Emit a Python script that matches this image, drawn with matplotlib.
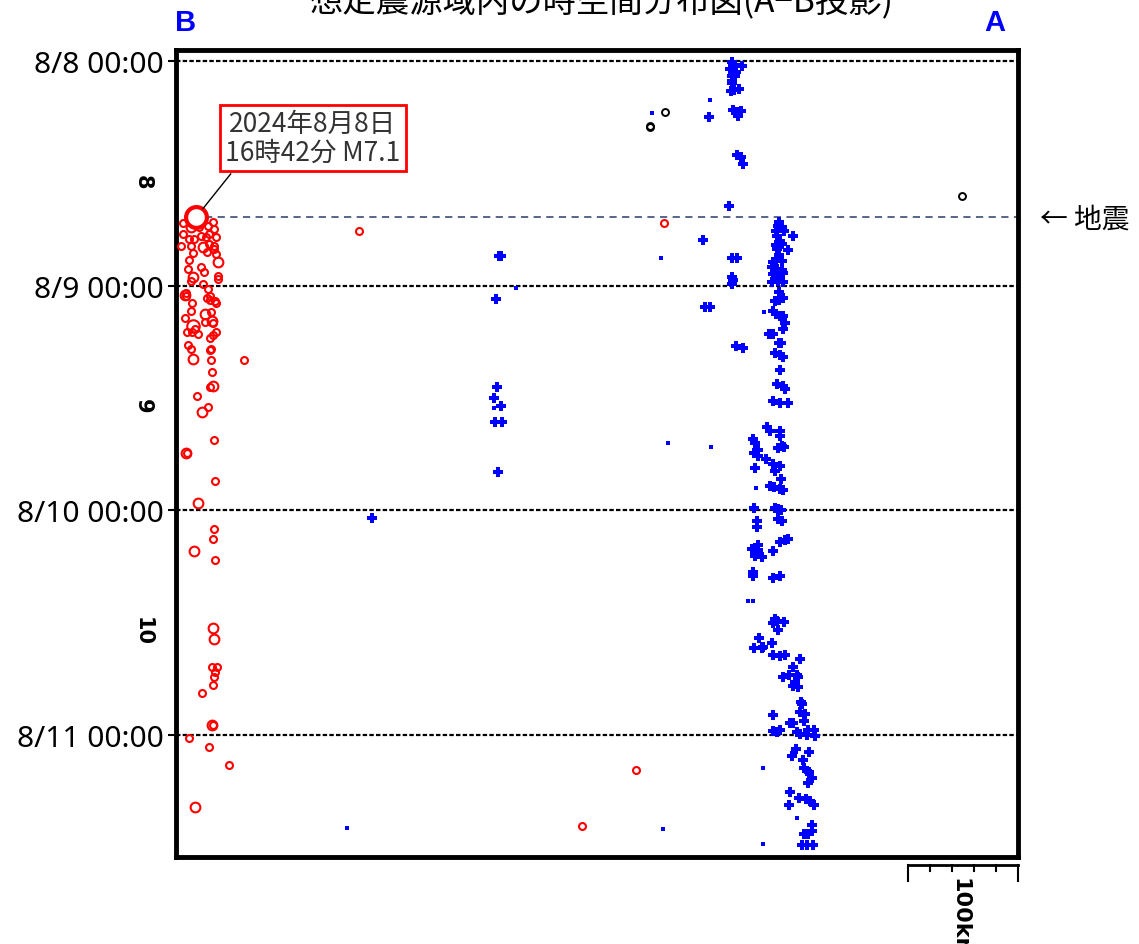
import numpy as np
import matplotlib.pyplot as plt

# data: x = distance from B along A-B (km), y = hours since 8/8 00:00
main_km, main_h = 18.2, 16.7
main_label = '2024年8月8日\n16時42分 M7.1'

red = [  # km, hours, magnitude (approx)
    (6.4, 17.3, 4.5), (13.6, 17.7, 5.0), (20.9, 17.7, 4.5), (29.1, 17.6, 4.5), (33.6, 17.2, 4.5), (34.5, 17.9, 4.5),
    (6.4, 18.5, 4.5), (11.8, 19.0, 4.5), (16.4, 19.0, 4.5), (22.7, 18.7, 4.5), (27.3, 18.8, 4.5), (30.0, 18.5, 4.5), (36.4, 18.8, 4.5),
    (4.5, 19.8, 4.5), (13.6, 19.8, 4.5), (24.5, 19.9, 5.0), (30.0, 19.55, 4.5), (34.5, 19.8, 4.5), (34.5, 20.1, 4.5),
    (15.5, 20.5, 4.5), (28.2, 20.4, 4.5), (36.4, 20.6, 4.5), (11.8, 21.3, 4.5), (38.2, 21.5, 5.0),
    (22.7, 22.0, 4.5), (10.9, 22.2, 4.5), (25.5, 22.5, 4.5), (15.5, 23.1, 5.0), (38.2, 23.0, 4.5),
    (13.6, 23.5, 4.5), (24.5, 23.8, 4.5), (29.1, 24.4, 4.5), (9.1, 24.8, 4.5), (38.2, 23.3, 4.5),
    (8.2, 25.0, 5.0), (9.1, 25.1, 4.5), (14.5, 25.9, 4.5), (28.2, 25.3, 4.5), (30.9, 25.1, 4.5), (30.9, 25.5, 4.5),
    (35.5, 25.6, 4.5), (36.4, 25.9, 4.5), (13.6, 26.7, 4.5), (8.2, 27.5, 4.5), (26.4, 27.0, 5.0), (31.8, 26.8, 4.5),
    (15.5, 28.3, 5.5), (17.3, 28.6, 4.5), (10.0, 29.0, 4.5), (14.5, 29.0, 4.5), (20.0, 29.2, 4.5), (26.4, 27.9, 4.5),
    (32.7, 27.8, 5.0), (33.6, 28.0, 4.5), (36.4, 29.0, 4.5), (33.6, 29.3, 4.5), (30.9, 29.6, 4.5),
    (10.9, 30.3, 4.5), (13.6, 30.8, 4.5), (30.9, 30.9, 4.5), (31.8, 30.8, 4.5),
    (15.5, 31.8, 5.0), (31.8, 31.9, 4.5), (61.8, 31.9, 4.5), (32.7, 33.2, 4.5),
    (30.9, 34.8, 4.5), (33.6, 34.7, 5.0), (19.1, 35.8, 4.5), (29.1, 37.0, 4.5), (23.6, 37.5, 5.0),
    (34.5, 40.5, 4.5), (9.1, 41.9, 5.0), (10.0, 41.9, 4.5), (35.5, 44.9, 4.5), (20.0, 47.2, 5.0),
    (34.5, 50.0, 4.5), (33.6, 51.1, 4.5), (16.4, 52.4, 5.0), (35.5, 53.3, 4.5),
    (33.6, 60.6, 5.0), (34.5, 61.8, 5.0), (32.7, 64.7, 4.5), (37.3, 64.7, 4.5), (35.5, 65.3, 4.5),
    (34.5, 65.8, 4.5), (33.6, 66.7, 4.5), (23.6, 67.5, 4.5), (32.7, 70.9, 5.0), (33.6, 70.9, 4.5),
    (11.8, 72.3, 4.5), (30.0, 73.3, 4.5), (48.2, 75.2, 4.5), (17.3, 79.7, 5.0),
    (166.4, 18.2, 4.5), (443.6, 17.3, 4.5), (418.2, 75.7, 4.5), (369.1, 81.7, 4.5),
]
red_km = [r[0] for r in red]
red_h = [r[1] for r in red]
red_mag = [r[2] for r in red]

black_km = [444.5, 430.9, 430.9, 714.5]
black_h = [5.4, 6.9, 7.1, 14.4]

blue = [
    (505.5, 0.1), (506.4, 0.5), (508.2, 0.4), (514.5, 0.5), (503.6, 0.85), (506.4, 1.2), (509.1, 1.2),
    (505.5, 1.6), (508.2, 1.6), (505.5, 2.1), (505.5, 2.35), (504.5, 3.2), (507.3, 3.1), (511.8, 3.0),
    (484.5, 6.0), (506.4, 5.2), (510.0, 5.45), (513.6, 5.3), (510.9, 5.9),
    (510.0, 10.0), (513.6, 10.3), (515.5, 11.0), (502.7, 15.5), (479.1, 19.1),
    (505.5, 21.0), (510.0, 21.0), (505.5, 23.1), (506.4, 23.4), (505.5, 23.8),
    (480.9, 26.3), (485.5, 26.3), (509.1, 30.4), (515.5, 30.7),
    (293.6, 20.8), (295.5, 20.8), (290.9, 25.4), (291.8, 34.8), (289.1, 36.0), (295.5, 36.9),
    (290.0, 38.6), (296.4, 38.6), (292.7, 43.9), (178.2, 48.8),
    (548.2, 17.2), (547.3, 17.6), (550.9, 17.7), (545.5, 18.2), (552.7, 18.2), (560.9, 18.7), (546.4, 18.7),
    (549.1, 19.2), (545.5, 19.7), (550.9, 19.55), (556.4, 20.2), (546.4, 20.1), (548.2, 20.7),
    (545.5, 21.4), (550.9, 21.4), (542.7, 21.5), (541.8, 22.0), (546.4, 22.2), (550.9, 22.3),
    (542.7, 22.8), (551.8, 22.6), (549.1, 23.1), (541.8, 23.6), (547.3, 23.5), (551.8, 23.6),
    (548.2, 24.7), (544.5, 25.6), (548.2, 25.5), (551.8, 25.3), (542.7, 26.7), (545.5, 27.0),
    (549.1, 27.2), (551.8, 27.2), (553.6, 28.0), (551.8, 28.6), (539.1, 29.2), (542.7, 29.2),
    (548.2, 30.1), (550.0, 30.1), (544.5, 31.2), (549.1, 31.4), (551.8, 31.6), (549.1, 33.0),
    (546.4, 34.5), (551.8, 34.7), (553.6, 35.0), (542.7, 36.3), (549.1, 36.5), (556.4, 36.5),
    (537.3, 39.1), (540.0, 39.5), (549.1, 39.5), (549.1, 40.1), (524.5, 40.4), (526.4, 40.8),
    (529.1, 41.6), (525.5, 41.9), (529.1, 42.2), (536.4, 42.5), (542.7, 43.1), (549.1, 43.3),
    (544.5, 43.8), (550.9, 41.1), (552.7, 41.2), (547.3, 41.3), (526.4, 43.5), (550.0, 44.7),
    (540.0, 45.4), (543.6, 45.5), (549.1, 45.7), (551.8, 45.8), (525.5, 47.8), (544.5, 47.8),
    (547.3, 47.9), (550.0, 48.0), (528.2, 49.1), (528.2, 49.8), (547.3, 48.9), (550.9, 49.1),
    (549.1, 51.4), (553.6, 51.2), (556.4, 51.1), (523.6, 52.1), (529.1, 51.7), (529.1, 52.2),
    (526.4, 52.9), (532.7, 53.0), (542.7, 52.4), (524.5, 54.6), (524.5, 55.0), (542.7, 55.2),
    (549.1, 55.0), (544.5, 59.6), (546.4, 59.8), (542.7, 60.0), (552.7, 59.9), (547.3, 60.8),
    (530.0, 61.6), (541.8, 62.2), (525.5, 62.7), (532.7, 62.7), (533.6, 62.6),
    (542.7, 63.5), (549.1, 63.6), (553.6, 63.5), (567.3, 63.9), (560.9, 64.7),
    (551.8, 65.8), (557.3, 65.6), (564.5, 65.6), (565.5, 65.8), (562.7, 66.3), (560.9, 66.8), (565.5, 66.9),
    (568.2, 68.5), (569.1, 68.7), (542.7, 69.9), (567.3, 69.6), (571.8, 69.8),
    (560.9, 70.7), (558.2, 70.7), (570.9, 70.5), (542.7, 71.6), (549.1, 71.5), (546.4, 71.7),
    (564.5, 71.7), (567.3, 71.9), (574.5, 71.5), (580.0, 71.5), (580.9, 72.1), (573.6, 72.0),
    (563.6, 73.5), (560.0, 74.3), (575.5, 73.8), (570.0, 74.7), (570.9, 75.5), (573.6, 75.9),
    (575.5, 76.0), (578.2, 76.6), (574.5, 77.1), (558.2, 78.1), (557.3, 79.5), (566.4, 78.7),
    (572.7, 78.8), (576.4, 79.1), (580.0, 79.5), (578.2, 81.6), (570.9, 82.6), (574.5, 82.6),
    (578.2, 82.3), (569.1, 83.8), (573.6, 83.8), (579.1, 83.8),
]
blue_km = [b[0] for b in blue]
blue_h = [b[1] for b in blue]

blue_small_km = [432.7, 485.5, 440.9, 309.1, 534.5, 447.3, 486.4, 527.3, 520.0, 524.5, 533.6, 564.5, 155.5, 442.7, 533.6, 289.1]
blue_small_h = [5.6, 4.2, 21.0, 24.3, 26.8, 40.8, 41.2, 45.6, 57.7, 57.7, 75.5, 80.9, 81.9, 82.0, 83.7, 37.1]

day_hours = [0, 24, 48, 72]
day_labels = ['8/8 00:00', '8/9 00:00', '8/10 00:00', '8/11 00:00']
day_nums = ['8', '9', '10']
scale_len = 100
scale_step = 20

cjk = ['Noto Sans CJK JP', 'DejaVu Sans']

fig = plt.figure(figsize=(11.39, 9.45), dpi=100)
ax = fig.add_axes([176/1139, 87/945, 842/1139, 807/945])
xmax = 765.5
ax.set_xlim(0, xmax)
ax.set_ylim(85.04, -1.175)

for h in day_hours:
    ax.axhline(h, color='black', lw=1.6, ls=(0, (2, 1)), zorder=1)
ax.plot([main_km + 8, xmax], [main_h, main_h], color='#4a5a80', lw=1.3, ls=(0, (4, 3)), zorder=1)

ax.plot(blue_km, blue_h, 'P', color='blue', ms=7.5, mew=0, ls='none', zorder=2)
ax.plot(blue_small_km, blue_small_h, 's', color='blue', ms=3, mew=0, ls='none', zorder=2)
ax.plot(black_km, black_h, 'o', mfc='none', mec='black', ms=5, mew=1.4, ls='none', zorder=3)
sizes = [5 + (m - 4.5) * 4 for m in red_mag]
for x, y, s in zip(red_km, red_h, sizes):
    ax.plot(x, y, 'o', mfc='none', mec='red', ms=s, mew=1.5, zorder=3)
ax.plot(main_km, main_h, 'o', mfc='white', mec='red', ms=15, mew=3, zorder=4)

ax.annotate(main_label, xy=(main_km, main_h), xytext=(124.5, 8.2),
            ha='center', va='center', fontsize=19, color='#333333', family=cjk,
            linespacing=1.05,
            bbox=dict(boxstyle='square,pad=0.2', fc='white', ec='red', lw=2),
            arrowprops=dict(arrowstyle='-', color='black', lw=1, relpos=(0.07, 0), shrinkB=8),
            zorder=5)

ax.set_yticks(day_hours)
ax.set_yticklabels(day_labels, fontsize=21.5, family='Noto Sans')
ax.tick_params(axis='y', length=6, width=1.5, pad=3)
ax.set_xticks([])
for s in ax.spines.values():
    s.set_linewidth(3.5)

ytr = ax.get_yaxis_transform()
for i, d in enumerate(day_nums):
    ax.text(-0.039, i * 24 + 12.8, d, transform=ytr, rotation=270, fontsize=15,
            fontweight='bold', ha='center', va='center')

# scale bar
xtr = ax.get_xaxis_transform()
s0 = xmax - scale_len
ax.plot([s0, xmax], [-0.0099, -0.0099], color='black', lw=2, transform=xtr, clip_on=False)
for t in np.arange(s0, xmax + 1, scale_step):
    end = abs(t - s0) < 1e-6 or abs(t - xmax) < 1e-6
    ax.plot([t, t], [-0.0099, -0.030 if end else -0.017], color='black', lw=1.5,
            transform=xtr, clip_on=False)
ax.text(s0 + 47, -0.025, f'{scale_len}km', transform=xtr, rotation=270, fontsize=16,
        fontweight='bold', ha='center', va='top')

fig.text(186/1139, 1 - 23/945, 'B', color='blue', fontsize=21, ha='center', va='center',
         family='Liberation Sans', fontweight='bold')
fig.text(995/1139, 1 - 23/945, 'A', color='blue', fontsize=21, ha='center', va='center',
         family='Liberation Sans', fontweight='bold')
fig.text(602/1139, 1 - 2/945, '想定震源域内の時空間分布図(A−B投影)', fontsize=24,
         ha='center', va='center', family=cjk)
fig.text(1040/1139, 1 - 220/945, '← 地震', fontsize=20, ha='left', va='center', family=cjk)

fig.savefig('out.png', dpi=100)
